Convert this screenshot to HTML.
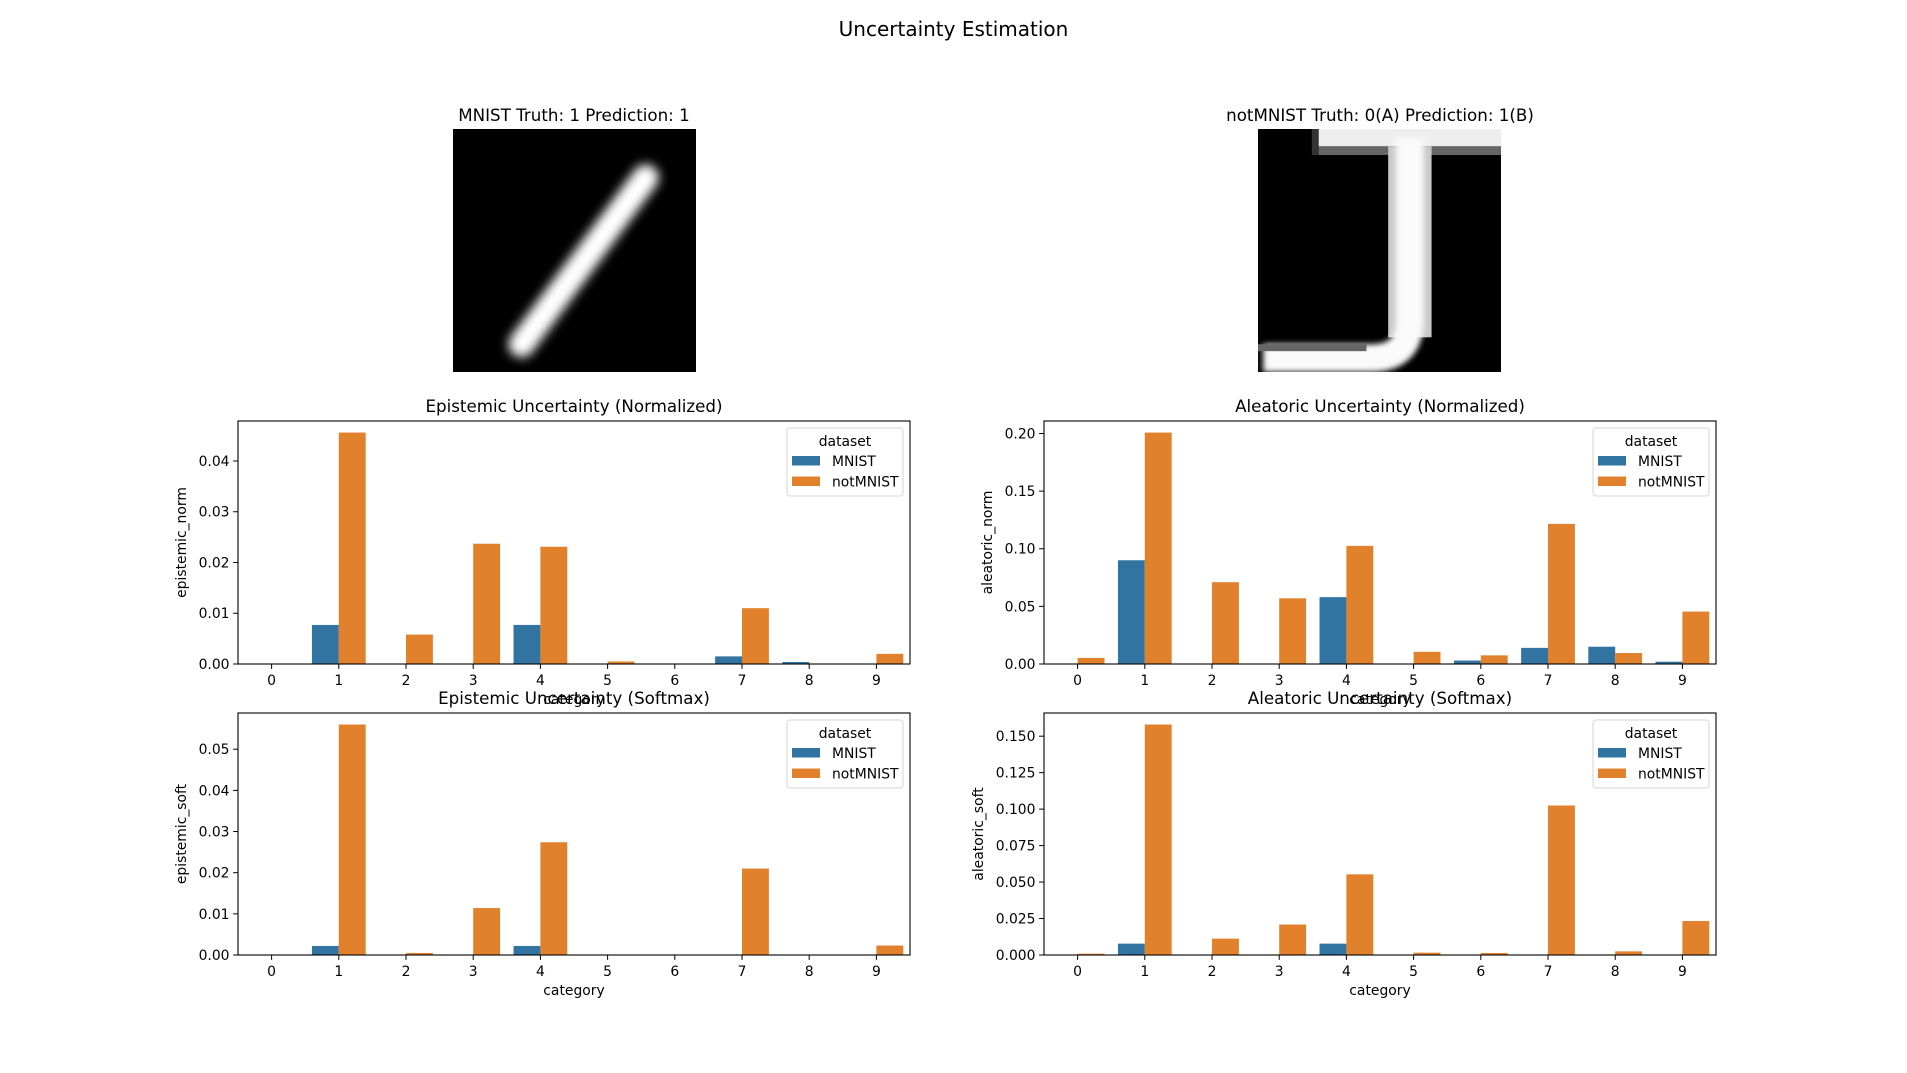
<!DOCTYPE html>
<html><head><meta charset="utf-8"><style>
body{margin:0;background:#fff}
svg{display:block;font-family:"DejaVu Sans","Liberation Sans",sans-serif}
</style></head><body>
<svg id="fig" width="1907" height="1073" viewBox="0 0 1907 1073" xmlns="http://www.w3.org/2000/svg">
<defs><filter id="blr" x="-20%" y="-20%" width="140%" height="140%"><feGaussianBlur stdDeviation="0.6"/></filter>
<filter id="blr2" x="-20%" y="-20%" width="140%" height="140%"><feGaussianBlur stdDeviation="0.35"/></filter></defs>
<text x="953.5" y="36" font-size="20" text-anchor="middle">Uncertainty Estimation</text>
<g>
<text x="574" y="121" font-size="16.7" text-anchor="middle">MNIST Truth: 1 Prediction: 1</text>
<svg x="453" y="129" width="243" height="243" viewBox="0 0 28 28">
<rect width="28" height="28" fill="#000"/>
<line x1="7.9" y1="24.8" x2="22.2" y2="5.6" stroke="#fff" stroke-width="3" stroke-linecap="round" filter="url(#blr)"/>
</svg>
</g>
<g>
<text x="1380" y="121" font-size="16.7" text-anchor="middle">notMNIST Truth: 0(A) Prediction: 1(B)</text>
<svg x="1258" y="129" width="243" height="243" viewBox="0 0 28 28">
<rect width="28" height="28" fill="#000"/>
<rect x="6.2" y="0" width="0.9" height="3" fill="#333"/>
<rect x="7" y="0" width="21" height="2" fill="#eee"/>
<rect x="7" y="2" width="21" height="1" fill="#666"/>
<rect x="15" y="2" width="5" height="22" fill="#c8c8c8"/>
<path d="M0.6,26.4 L13,26.4 Q17.5,26.4 17.5,22 L17.5,1" stroke="#fafafa" stroke-width="3.2" fill="none" filter="url(#blr2)"/>
<rect x="0" y="24.8" width="12.5" height="0.8" fill="#666"/>
</svg>
</g>
<g id="charts"></g>
</svg>
<script>
const categories = ["0","1","2","3","4","5","6","7","8","9"];
const hues = ["MNIST","notMNIST"];
const epiNormMnist = [0,0.0077,0,0,0.0077,0,0,0.0015,0.0004,0];
const epiNormNot = [0,0.0456,0.0058,0.0237,0.0231,0.0005,0,0.011,0,0.002];
const epiSoftMnist = [0,0.0022,0,0,0.0022,0,0,0,0,0];
const epiSoftNot = [0,0.056,0.0005,0.0114,0.0274,0,0,0.021,0,0.0023];
const aleNormMnist = [0,0.09,0,0,0.058,0,0.003,0.014,0.015,0.002];
const aleNormNot = [0.0053,0.2008,0.071,0.057,0.1025,0.0106,0.0075,0.1216,0.0095,0.0455];
const aleSoftMnist = [0,0.0078,0,0,0.0078,0,0,0,0,0];
const aleSoftNot = [0.0009,0.158,0.0112,0.0209,0.0553,0.0016,0.0014,0.1025,0.0025,0.0233];
const epiNormTicks = [0,0.01,0.02,0.03,0.04];
const epiSoftTicks = [0,0.01,0.02,0.03,0.04,0.05];
const aleNormTicks = [0,0.05,0.10,0.15,0.20];
const aleSoftTicks = [0,0.025,0.05,0.075,0.1,0.125,0.15];

const NS="http://www.w3.org/2000/svg";
const root=document.getElementById('charts');
const colors=["#3274a1","#e1812c"];
function mk(tag,attrs,parent){const e=document.createElementNS(NS,tag);for(const k in attrs)e.setAttribute(k,attrs[k]);parent.appendChild(e);return e;}

function chart(name,x0,y0,w,h,title,ylabel,ylabelX,mn,nt,ticks,dec){
  const g=mk('g',{},root);
  
  
  const ymax=Math.max(...mn,...nt)*1.05;
  const sx=v=>x0+(v+0.5)/categories.length*w;
  const sy=v=>y0+h-v/ymax*h;
  [mn,nt].forEach((arr,hi)=>{
    arr.forEach((v,i)=>{
      const xl=sx(i-0.4+hi*0.4), xr=sx(i+hi*0.4);
      const r=mk('rect',{x:xl,y:sy(v),width:xr-xl,height:y0+h-sy(v),fill:colors[hi]},g);
      
      
    });
  });
  mk('rect',{x:x0,y:y0,width:w,height:h,fill:'none',stroke:'#000','stroke-width':1.1},g);
  categories.forEach((c,i)=>{
    const x=sx(i);
    mk('line',{x1:x,x2:x,y1:y0+h,y2:y0+h+4.9,stroke:'#000','stroke-width':1},g);
    const t=mk('text',{x:x,y:y0+h+21,'font-size':13.9,'text-anchor':'middle'},g);
    t.textContent=c;
    
    
  });
  ticks.forEach(v=>{
    const y=sy(v);
    mk('line',{x1:x0-4.9,x2:x0,y1:y,y2:y,stroke:'#000','stroke-width':1},g);
    const t=mk('text',{x:x0-8.5,y:y+5,'font-size':13.9,'text-anchor':'end'},g);
    t.textContent=v.toFixed(dec);
    
    
  });
  const tt=mk('text',{x:x0+w/2,y:y0-9,'font-size':16.7,'text-anchor':'middle'},g);
  tt.textContent=title;
  
  
  const xl=mk('text',{x:x0+w/2,y:y0+h+40,'font-size':13.9,'text-anchor':'middle'},g);
  xl.textContent='category';
  
  
  const yl=mk('text',{x:ylabelX,y:y0+h/2,'font-size':13.9,'text-anchor':'middle',transform:`rotate(-90 ${ylabelX} ${y0+h/2})`},g);
  yl.textContent=ylabel;
  
  
  const lw=116, lh=68, lx=x0+w-7-lw, ly=y0+7;
  const lg=mk('g',{},g);
  
  
  mk('rect',{x:lx,y:ly,width:lw,height:lh,rx:3,fill:'#fff','fill-opacity':0.8,stroke:'#d6d6d6','stroke-width':1},lg);
  const lt=mk('text',{x:lx+lw/2,y:ly+18,'font-size':13.9,'text-anchor':'middle'},lg);
  lt.textContent='dataset';
  
  
  hues.forEach((hn,hi)=>{
    const ry=ly+38+hi*20.5;
    const p=mk('rect',{x:lx+5,y:ry-10,width:28,height:9.5,fill:colors[hi]},lg);
    
    
    const t=mk('text',{x:lx+45,y:ry,'font-size':13.9},lg);
    t.textContent=hn;
    
    
  });
}
chart('epistemic-norm-chart',238,421,672,243,'Epistemic Uncertainty (Normalized)','epistemic_norm',186,epiNormMnist,epiNormNot,epiNormTicks,2);
chart('epistemic-soft-chart',238,713,672,242,'Epistemic Uncertainty (Softmax)','epistemic_soft',186,epiSoftMnist,epiSoftNot,epiSoftTicks,2);
chart('aleatoric-norm-chart',1044,421,672,243,'Aleatoric Uncertainty (Normalized)','aleatoric_norm',992,aleNormMnist,aleNormNot,aleNormTicks,2);
chart('aleatoric-soft-chart',1044,713,672,242,'Aleatoric Uncertainty (Softmax)','aleatoric_soft',983,aleSoftMnist,aleSoftNot,aleSoftTicks,3);
</script>
</body></html>
